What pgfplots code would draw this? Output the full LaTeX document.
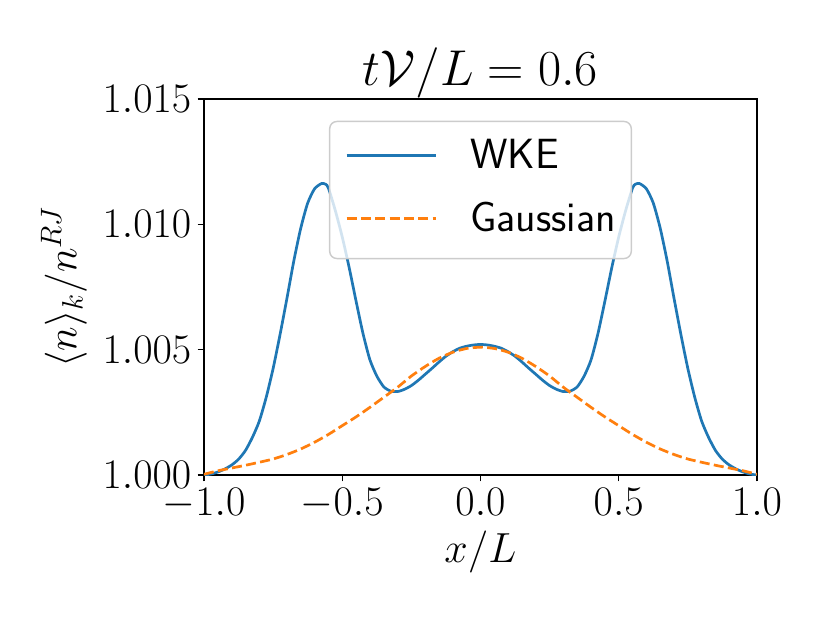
\RequirePackage{fix-cm}
\documentclass[border=0pt]{standalone}
\usepackage{pgfplots}
\usepackage{pgfplotstable}
\pgfplotsset{compat=1.18}
\definecolor{mplblue}{HTML}{1F77B4}
\definecolor{mplorange}{HTML}{FF7F0E}

\pgfplotstableread{
x y
-1.000 1.00000
-0.975 1.00004
-0.950 1.00012
-0.925 1.00024
-0.900 1.00040
-0.875 1.00063
-0.850 1.00098
-0.825 1.00150
-0.800 1.00215
-0.775 1.00310
-0.750 1.00425
-0.725 1.00560
-0.700 1.00705
-0.675 1.00855
-0.650 1.00985
-0.625 1.01085
-0.600 1.01142
-0.575 1.01163
-0.560 1.01160
-0.550 1.01145
-0.525 1.01055
-0.500 1.00950
-0.475 1.00828
-0.450 1.00694
-0.425 1.00565
-0.400 1.00460
-0.375 1.00395
-0.350 1.00352
-0.325 1.00335
-0.300 1.00333
-0.275 1.00342
-0.250 1.00357
-0.225 1.00378
-0.200 1.00402
-0.175 1.00426
-0.150 1.00451
-0.125 1.00474
-0.100 1.00492
-0.075 1.00506
-0.050 1.00514
-0.025 1.00519
0.000 1.00521
0.025 1.00519
0.050 1.00514
0.075 1.00506
0.100 1.00492
0.125 1.00474
0.150 1.00451
0.175 1.00426
0.200 1.00402
0.225 1.00378
0.250 1.00357
0.275 1.00342
0.300 1.00333
0.325 1.00335
0.350 1.00352
0.375 1.00395
0.400 1.00460
0.425 1.00565
0.450 1.00694
0.475 1.00828
0.500 1.00950
0.525 1.01055
0.550 1.01145
0.560 1.01160
0.575 1.01163
0.600 1.01142
0.625 1.01085
0.650 1.00985
0.675 1.00855
0.700 1.00705
0.725 1.00560
0.750 1.00425
0.775 1.00310
0.800 1.00215
0.825 1.00150
0.850 1.00098
0.875 1.00063
0.900 1.00040
0.925 1.00024
0.950 1.00012
0.975 1.00004
1.000 1.00000
}\wketable

\pgfplotstableread{
x y
-1.00 1.00003
-0.95 1.00017
-0.90 1.00028
-0.85 1.00039
-0.80 1.00051
-0.75 1.00064
-0.70 1.00082
-0.65 1.00104
-0.60 1.00131
-0.55 1.00162
-0.50 1.00197
-0.45 1.00232
-0.40 1.00270
-0.35 1.00310
-0.30 1.00350
-0.25 1.00395
-0.20 1.00433
-0.15 1.00466
-0.10 1.00490
-0.05 1.00505
0.00 1.00510
0.05 1.00505
0.10 1.00490
0.15 1.00466
0.20 1.00433
0.25 1.00395
0.30 1.00350
0.35 1.00310
0.40 1.00270
0.45 1.00232
0.50 1.00197
0.55 1.00162
0.60 1.00131
0.65 1.00104
0.70 1.00082
0.75 1.00064
0.80 1.00051
0.85 1.00039
0.90 1.00028
0.95 1.00017
1.00 1.00003
}\gausstable

\begin{document}
\begin{tikzpicture}
\path[use as bounding box] (-112.96pt,-81.95pt) rectangle (346.64pt,263.05pt);
\begin{axis}[
  at={(0,0)}, anchor=south west,
  scale only axis, width=306.2pt, height=208.2pt,
  xmin=-1, xmax=1, ymin=1, ymax=1.015,
  xtick={-1,-0.5,0,0.5,1},
  ytick={1,1.005,1.01,1.015},
  scaled y ticks=false, scaled x ticks=false,
  xticklabel style={/pgf/number format/fixed, /pgf/number format/fixed zerofill, /pgf/number format/precision=1},
  yticklabel style={/pgf/number format/fixed, /pgf/number format/fixed zerofill, /pgf/number format/precision=3},
  tick pos=left,
  tick align=outside,
  major tick length=3.5pt,
  every tick/.style={black, line width=0.8pt},
  axis line style={line width=0.8pt},
  tick label style={font=\fontsize{23.3}{28}\selectfont},
  xticklabel style={anchor=base, inner sep=0pt, yshift=-18.8pt},
  yticklabel style={anchor=east, inner sep=0pt, xshift=-3.35pt},
  label style={font=\fontsize{23.3}{28}\selectfont},
  xlabel={$x/L$},
  xlabel style={at={(axis description cs:0.5,0)}, anchor=base, inner sep=0pt, yshift=-48.7pt},
  ylabel={$\langle n\rangle_k/n^{RJ}$},
  ylabel style={at={(axis description cs:-0.211,0.5)}, anchor=south, inner sep=0pt},
  title={$t\mathcal{V}/L = 0.6$},
  title style={at={(axis description cs:0.5,1)}, anchor=base, inner sep=0pt, yshift=1.3pt, font=\fontsize{27.9}{33}\selectfont},
  legend cell align=left,
  legend image code/.code={\draw[#1] (0pt,1.7pt) -- (49.3pt,1.7pt);},
  legend style={at={(axis description cs:0.5,0.9423)}, anchor=north,
    draw=black!20, line width=0.8pt, rounded corners=4pt,
    fill=white, fill opacity=0.8, text opacity=1,
    inner xsep=8.6pt, inner ysep=10.7pt,
    font=\sffamily\fontsize{23.4}{28}\selectfont,
    column sep=18.5pt, row sep=15.5pt,
    nodes={inner sep=0pt, text height=15.5pt, text depth=4pt}},
]
\addplot[mplblue, line width=1.5pt, line join=round, smooth, tension=0.4] table[x=x, y=y] {\wketable};
\addlegendentry{WKE}
\addplot[mplorange, line width=1.5pt, dash pattern=on 5.55pt off 2.4pt, smooth, tension=0.4] table[x=x, y=y] {\gausstable};
\addlegendentry{Gaussian}
\end{axis}
\end{tikzpicture}
\end{document}
